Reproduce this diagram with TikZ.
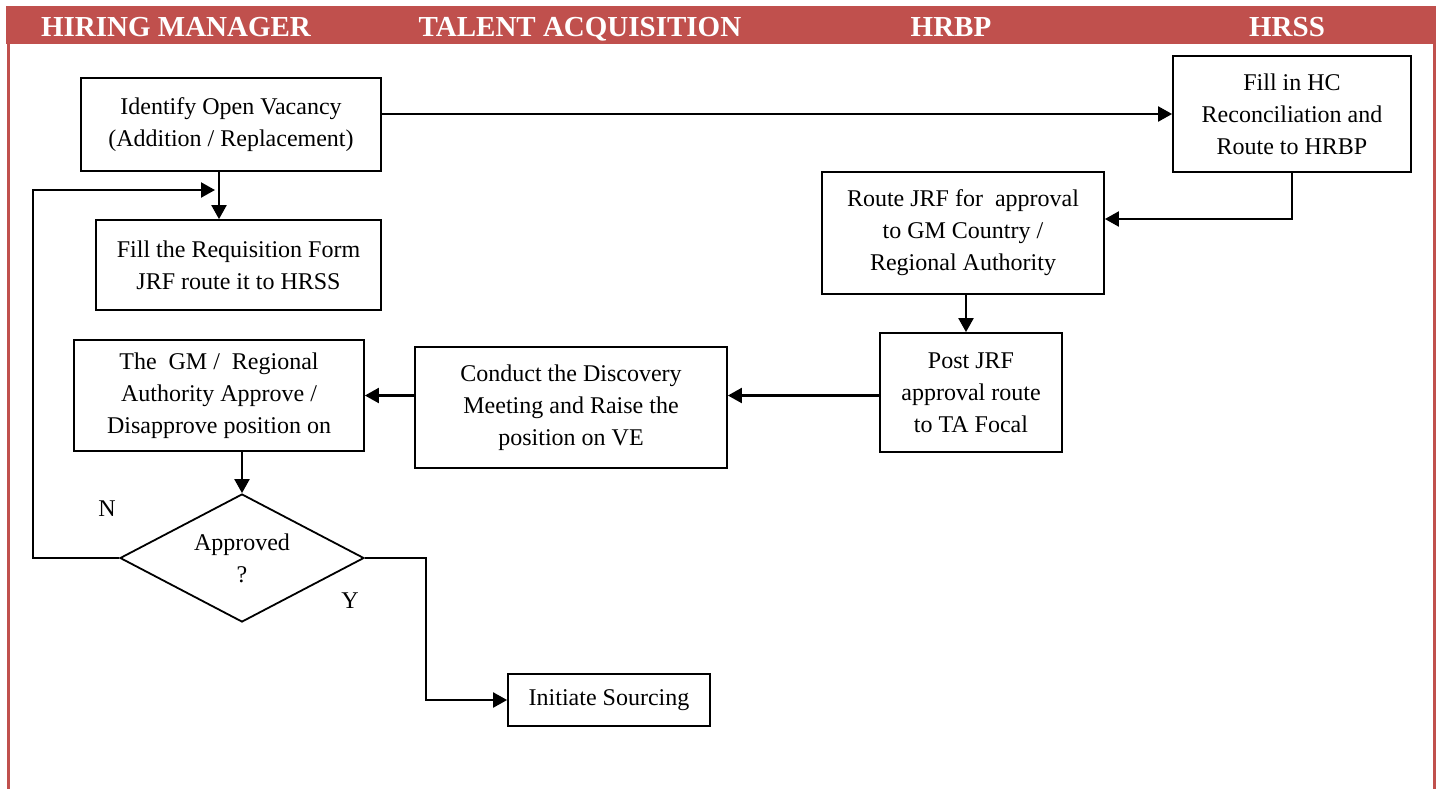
\documentclass[tikz,border=0pt]{standalone}
\usepackage{fontspec}
\setmainfont{Liberation Serif}
\usetikzlibrary{shapes.geometric, arrows.meta}
\definecolor{lanered}{HTML}{C0504D}

\begin{document}
\begin{tikzpicture}
      [x=.5pt,y=-.5pt
      ,box/.style={draw=black,line width=.9pt,align=center,inner sep=0pt,font=\fontsize{12}{16}\selectfont}
      ,dec/.style={draw=black,line width=.9pt,diamond,shape aspect=1.9,align=center,inner sep=0pt,font=\fontsize{12}{16}\selectfont}
      ,arr/.style={draw=black,line width=1.1pt,-{Triangle[length=7pt,width=7.5pt]}}
      ,lane/.style={text=white,anchor=base,font=\fontsize{14.5}{16}\selectfont\bfseries}
      ,lbl/.style={font=\fontsize{12}{16}\selectfont}
      ]
        \useasboundingbox (0,0) rectangle (1441,789);

        % header band and side rules
        \fill[lanered] (6,6) rectangle (1436,44);
        \draw[lanered,line width=1.5pt] (8,44) -- (8,789);
        \draw[lanered,line width=1.5pt] (1434,44) -- (1434,789);

        \node[lane] (hm) at (176,36) {HIRING MANAGER};
        \node[lane] (ta) at (580,36) {TALENT ACQUISITION};
        \node[lane] (hrbp) at (951,36) {HRBP};
        \node[lane] (hrss) at (1287,36) {HRSS};

        % steps
        \node[box,minimum width=150pt,minimum height=46.5pt] (ident) at (231,124.5) {Identify Open Vacancy\\(Addition / Replacement)};
        \node[box,minimum width=142.5pt,minimum height=45pt] (reqform) at (238.5,265) {Fill the Requisition Form\\JRF route it to HRSS};
        \node[box,minimum width=119pt,minimum height=58pt] (hcrec) at (1292,114) {Fill in HC\\Reconciliation and\\Route to HRBP};
        \node[box,minimum width=141pt,minimum height=61pt] (routejrf) at (963,233) {Route JRF for \ approval\\to GM Country /\\Regional Authority};
        \node[box,minimum width=91pt,minimum height=59.5pt] (postjrf) at (971,392.5) {Post JRF\\approval route\\to TA Focal};
        \node[box,minimum width=156pt,minimum height=60.5pt] (conduct) at (571,407.5) {Conduct the Discovery\\Meeting and Raise the\\position on VE};
        \node[box,minimum width=145pt,minimum height=55.5pt] (gmapp) at (219,395.5) {The \ GM / \ Regional\\Authority Approve /\\Disapprove position on};
        \node[dec,minimum width=122pt,minimum height=64pt] (appr) at (242,558) {Approved\\?};
        \node[box,minimum width=101pt,minimum height=26pt] (source) at (609,700) {Initiate Sourcing};

        \node[lbl] (nlbl) at (107,509) {N};
        \node[lbl] (ylbl) at (350,601) {Y};

        \coordinate (nloop) at (33,558);
        \coordinate (nback) at (215,190);
        \coordinate (yturn) at (426,558);

        % connectors
        \draw[arr] (ident.east |- hcrec.west) -- (hcrec.west);
        \draw[arr] (hcrec.south) |- ([yshift=7pt]routejrf.east);
        \draw[arr] ([xshift=1.5pt]routejrf.south) -- ([xshift=1.5pt]routejrf.south |- postjrf.north);
        \draw[arr] (postjrf.west |- gmapp.east) -- (conduct.east |- gmapp.east);
        \draw[arr] (conduct.west |- gmapp.east) -- (gmapp.east);
        \draw[arr] ([xshift=-6pt]ident.south) -- ([xshift=-6pt]ident.south |- reqform.north);
        \draw[arr] (appr.north |- gmapp.south) -- (appr.north);
        \draw[arr] (appr.west) -- (nloop) |- (nback);
        \draw[arr] (appr.east) -- (yturn) |- (source.west);

       \end{tikzpicture}
\end{document}
